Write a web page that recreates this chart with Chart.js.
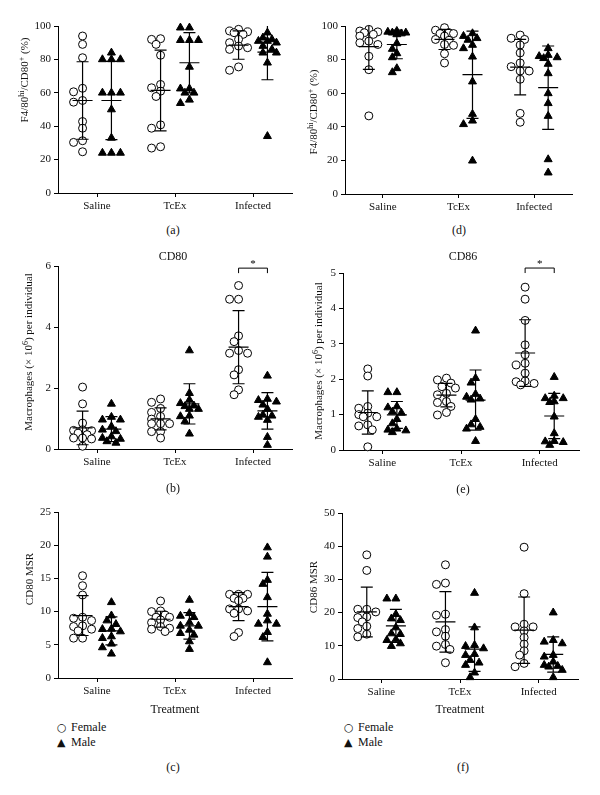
<!DOCTYPE html>
<html>
<head>
<meta charset="utf-8">
<script src="https://cdn.jsdelivr.net/npm/chart.js@4.4.1/dist/chart.umd.min.js"></script>
<style>
  body { margin: 0; background: #fff; width: 600px; height: 795px; position: relative; overflow: hidden;
         font-family: 'Liberation Serif', 'DejaVu Serif', serif; color: #111; }
  canvas { position: absolute; }
  .lbl { position: absolute; font-size: 12px; transform: translate(-50%, -50%); white-space: nowrap; }
  .leg { position: absolute; font-size: 12px; white-space: nowrap; line-height: 15px; }
  .leg span { display: inline-block; width: 14px; font-family: 'DejaVu Sans', sans-serif; font-size: 11px; }
</style>
</head>
<body>
<canvas id="pa"></canvas>
<canvas id="pd"></canvas>
<canvas id="pb"></canvas>
<canvas id="pe"></canvas>
<canvas id="pc"></canvas>
<canvas id="pf"></canvas>

<div class="lbl" style="left:173px;top:230px">(a)</div>
<div class="lbl" style="left:459px;top:230px">(d)</div>
<div class="lbl" style="left:173px;top:256px">CD80</div>
<div class="lbl" style="left:463px;top:256px">CD86</div>
<div class="lbl" style="left:173px;top:488px">(b)</div>
<div class="lbl" style="left:463px;top:489px">(e)</div>
<div class="lbl" style="left:173px;top:767px">(c)</div>
<div class="lbl" style="left:463px;top:767px">(f)</div>
<div class="leg" style="left:57px;top:720px"><span>○</span>Female<br><span>▲</span>Male</div>
<div class="leg" style="left:344px;top:720px"><span>○</span>Female<br><span>▲</span>Male</div>

<script>
const categories = ['Saline', 'TcEx', 'Infected'];

// (a) F4/80hi/CD80+ (%)
const aFemale = [[94, 89, 81, 62.7, 60.6, 55.4, 54.4, 42.8, 38.8, 31.3, 30.3, 24.7],
                 [92, 92.4, 89, 82.5, 65, 63, 61, 57.8, 40.8, 38.8, 27.7, 26.9],
                 [98, 97, 96.5, 96, 95, 92, 90, 88, 87, 86, 75.5, 73.5]];
const aMale = [[84, 80, 80, 80, 60, 60, 60, 50, 33, 24, 24, 24],
               [99, 99, 91.5, 91.5, 91.5, 75.5, 62.5, 62.5, 60, 60, 55.8, 53.8],
               [96, 93, 92, 91, 91, 90, 88, 86, 84, 84, 78, 34]];
const aFemaleMean = [55.4, 61.4, 88.6], aFemaleSD = [23.2, 24.2, 8.5];
const aMaleMean = [55.4, 78, 84.3], aMaleSD = [23.4, 18, 16.5];

// (d) F4/80hi/CD80+ (%)
const dFemale = [[98, 97, 96.5, 96, 95, 94, 91, 90, 89, 82, 74, 46.5],
                 [99, 97.5, 96, 95.5, 95.5, 94, 92, 91.5, 89, 88.5, 83.5, 78],
                 [94.6, 92.7, 92, 88.7, 84, 78, 75.8, 73.2, 73.2, 68.3, 48, 42.7]];
const dMale = [[97, 96.5, 96, 96, 95.5, 95, 89.7, 86.3, 83.7, 81.3, 74.8, 72.4],
               [95.6, 94, 92.7, 91.7, 88.7, 86.7, 81.7, 66.9, 47.6, 43.6, 41.5, 19.8],
               [86.7, 82.7, 82, 81.3, 80.8, 77.4, 71.8, 59.9, 54, 46.4, 20.6, 12.7]];
const dFemaleMean = [87.7, 92, 75.5], dFemaleSD = [13.5, 6, 16.5];
const dMaleMean = [89, 71, 63.3], dMaleSD = [8.5, 26, 24.8];

// (b) CD80 macrophages
const bFemale = [[2.03, 1.48, 0.85, 0.63, 0.61, 0.6, 0.52, 0.47, 0.36, 0.36, 0.33, 0.09],
                 [1.64, 1.53, 1.33, 1.2, 1.07, 0.98, 0.83, 0.83, 0.83, 0.57, 0.57, 0.36],
                 [5.36, 4.91, 4.91, 3.71, 3.52, 3.23, 3.14, 3.14, 2.6, 2.43, 1.94, 1.78]];
const bMale = [[1.48, 1.05, 0.96, 0.96, 0.74, 0.63, 0.58, 0.41, 0.36, 0.33, 0.25, 0.2],
               [3.23, 1.83, 1.61, 1.5, 1.42, 1.4, 1.31, 1.31, 1.09, 1.07, 0.9, 0.5],
               [2.4, 1.64, 1.6, 1.55, 1.45, 1.31, 1.12, 1.09, 1.05, 0.95, 0.39, 0.13]];
const bFemaleMean = [0.69, 0.99, 3.34], bFemaleSD = [0.55, 0.36, 1.2];
const bMaleMean = [0.65, 1.48, 1.25], bMaleSD = [0.41, 0.66, 0.6];

// (e) CD86 macrophages
const eFemale = [[2.29, 2.09, 1.23, 1.18, 1.04, 1.0, 0.94, 0.94, 0.71, 0.68, 0.57, 0.09],
                 [2.03, 1.98, 1.89, 1.79, 1.75, 1.6, 1.56, 1.37, 1.34, 1.23, 1.06, 0.99],
                 [4.6, 4.26, 3.66, 2.97, 2.69, 2.45, 2.4, 2.17, 1.95, 1.93, 1.88, 1.84]];
const eMale = [[1.63, 1.63, 1.23, 1.2, 1.08, 1.05, 0.87, 0.75, 0.6, 0.57, 0.55, 0.5],
               [3.37, 2.03, 1.9, 1.58, 1.5, 1.45, 1.42, 0.87, 0.72, 0.65, 0.6, 0.25],
               [2.06, 1.53, 1.46, 1.46, 1.37, 1.35, 0.94, 0.47, 0.25, 0.24, 0.22, 0.14]];
const eFemaleMean = [1.06, 1.55, 2.74], eFemaleSD = [0.61, 0.33, 0.94];
const eMaleMean = [0.99, 1.41, 0.96], eMaleSD = [0.38, 0.85, 0.64];

// (c) CD80 MSR
const cFemale = [[15.4, 13.9, 12.5, 9.15, 9, 8.65, 7.85, 7.75, 7.35, 7.1, 6, 6],
                 [11.6, 10.1, 10, 9.5, 9.15, 9.15, 8.75, 8.35, 7.75, 7.5, 7.35, 7],
                 [12.6, 12.6, 12.6, 12, 12, 11.65, 10.4, 10.4, 10.1, 9.75, 6.85, 6.25]];
const cMale = [[11.4, 9.4, 8.65, 8.1, 7.4, 7.35, 7, 6.25, 6, 5.15, 4.6, 3.65],
               [11.75, 9.75, 9.35, 9.15, 8.35, 7.85, 7.85, 7.25, 6.75, 6.5, 5.5, 4.35],
               [19.65, 18.25, 14.75, 14.15, 12.15, 9.65, 8.65, 8.15, 8.15, 6.9, 6.15, 2.35]];
const cFemaleMean = [9.4, 8.85, 10.75], cFemaleSD = [3.0, 1.2, 2.1];
const cMaleMean = [7.1, 7.85, 10.75], cMaleSD = [2.1, 2.0, 5.15];

// (f) CD86 MSR
const fFemale = [[37.4, 32.7, 21, 21, 20.2, 18.7, 18.5, 17.2, 15.9, 15.2, 13.5, 12.7],
                 [34.4, 28.9, 28.5, 19.5, 19.2, 14.9, 14.2, 12.9, 10.4, 9.9, 8.9, 4.9],
                 [39.7, 25.7, 16.5, 15.7, 15.7, 14.5, 12.5, 10.5, 8.5, 7.2, 4.7, 3.7]];
const fMale = [[24.2, 24.2, 19.5, 18.2, 17.7, 15.5, 13.7, 13.5, 11.9, 11.7, 10.7, 9.9],
               [25.9, 15.5, 10.2, 9.9, 9.2, 7.5, 7.2, 5.7, 4.9, 4.2, 1.9, 0.5],
               [20, 11.7, 11.2, 10.7, 7.2, 6.7, 5.2, 4.2, 3.9, 3.7, 2.7, 0.5]];
const fFemaleMean = [20.2, 17.2, 14.7], fFemaleSD = [7.5, 9.1, 10];
const fMaleMean = [16, 9, 7.4], fMaleSD = [5, 6.7, 5.3];

// significance bracket levels (Infected female vs male)
const bBracket = 5.93;
const eBracket = 5.14;

const SHIFT = 0.185;   // female left / male right of category centre
const FONT = "'Liberation Serif', 'DejaVu Serif', serif";

// spread points with near-equal values sideways, like a scatter dot plot
function swarm(groups, shift, xPerPx, yPerPx) {
  const pts = [];
  groups.forEach((vals, c) => {
    const placed = [];
    const order = vals.map((v, i) => i).sort((p, q) => vals[q] - vals[p]);
    order.forEach(i => {
      const py = vals[i] / yPerPx;
      let best = 0, bestGap = -1;
      for (let k = 0; k < 5; k++) {
        const o = (k % 2 ? -1 : 1) * Math.ceil(k / 2) * 4.5;
        const gap = placed.length ? Math.min(...placed.map(p => Math.hypot(p.px - o, p.py - py))) : 99;
        if (gap >= 6) { best = o; break; }
        if (gap > bestGap) { bestGap = gap; best = o; }
      }
      placed.push({px: best, py});
      pts.push({x: c + 0.5 + shift + best * xPerPx, y: vals[i]});
    });
  });
  return pts;
}

const errorBars = {
  id: 'errorBars',
  afterDatasetsDraw(chart, args, opts) {
    const {ctx, chartArea, scales: {x, y}} = chart;
    ctx.save();
    ctx.strokeStyle = '#000';
    ctx.lineWidth = 1.2;
    opts.groups.forEach(g => {
      g.mean.forEach((m, i) => {
        const cx = x.getPixelForValue(i + 0.5 + g.shift);
        const ym = y.getPixelForValue(m);
        const hiRaw = y.getPixelForValue(m + g.sd[i]);
        const loRaw = y.getPixelForValue(m - g.sd[i]);
        const hi = Math.max(chartArea.top, hiRaw);
        const lo = Math.min(chartArea.bottom, loRaw);
        ctx.beginPath();
        ctx.moveTo(cx, hi); ctx.lineTo(cx, lo);
        ctx.moveTo(cx - 10, ym); ctx.lineTo(cx + 10, ym);
        if (hiRaw >= chartArea.top - 0.5) { ctx.moveTo(cx - 6, hi); ctx.lineTo(cx + 6, hi); }
        if (loRaw <= chartArea.bottom) { ctx.moveTo(cx - 6, lo); ctx.lineTo(cx + 6, lo); }
        ctx.stroke();
      });
    });
    if (opts.bracket != null) {
      const x1 = x.getPixelForValue(2.5 - SHIFT), x2 = x.getPixelForValue(2.5 + SHIFT);
      const yb = y.getPixelForValue(opts.bracket);
      ctx.lineWidth = 1;
      ctx.beginPath();
      ctx.moveTo(x1, yb + 5); ctx.lineTo(x1, yb); ctx.lineTo(x2, yb); ctx.lineTo(x2, yb + 5);
      ctx.stroke();
      ctx.fillStyle = '#000';
      ctx.font = '11px ' + FONT;
      ctx.textAlign = 'center';
      ctx.textBaseline = 'middle';
      ctx.fillText('*', (x1 + x2) / 2, yb - 4);
    }
    ctx.restore();
  }
};

// rotated y-axis title with real superscripts
const yTitle = {
  id: 'yTitle',
  afterDraw(chart, args, o) {
    const {ctx} = chart;
    const main = '11px ' + FONT, sup = '8px ' + FONT;
    ctx.save();
    ctx.fillStyle = '#111';
    ctx.textBaseline = 'alphabetic';
    ctx.textAlign = 'left';
    const widths = o.parts.map(p => { ctx.font = p[1] ? sup : main; return ctx.measureText(p[0]).width; });
    const total = widths.reduce((s, w) => s + w, 0);
    ctx.translate(o.x, o.y);
    ctx.rotate(-Math.PI / 2);
    let cur = -total / 2;
    o.parts.forEach((p, i) => {
      ctx.font = p[1] ? sup : main;
      ctx.fillText(p[0], cur, p[1] ? -0.5 : 3.8);
      cur += widths[i];
    });
    ctx.restore();
  }
};

function panel(id, geo, female, male, fMean, fSD, mMean, mSD, yMax, step, titleParts, opts = {}) {
  const cv = document.getElementById(id);
  cv.width = geo.w; cv.height = geo.h;
  cv.style.left = geo.x + 'px'; cv.style.top = geo.y + 'px';
  cv.style.width = geo.w + 'px'; cv.style.height = geo.h + 'px';
  const a = geo.area;
  const xPerPx = 3 / (a.r - a.l);
  const yPerPx = yMax / (a.b - a.t);
  const tickFont = {family: FONT, size: 11};
  return new Chart(cv, {
    type: 'scatter',
    data: {
      datasets: [
        {label: 'Female', data: swarm(female, -SHIFT, xPerPx, yPerPx), pointStyle: 'circle', pointRadius: 4,
         borderColor: '#000', backgroundColor: '#fff', borderWidth: 1, clip: false},
        {label: 'Male', data: swarm(male, SHIFT, xPerPx, yPerPx), pointStyle: 'triangle', pointRadius: 4.6,
         borderColor: '#000', backgroundColor: '#000', borderWidth: 1, clip: false}
      ]
    },
    options: {
      responsive: false,
      animation: false,
      events: [],
      layout: {padding: {top: a.t, right: geo.w - a.r, left: 0, bottom: 0}},
      plugins: {
        legend: {display: false},
        tooltip: {enabled: false},
        errorBars: {
          groups: [{shift: -SHIFT, mean: fMean, sd: fSD}, {shift: SHIFT, mean: mMean, sd: mSD}],
          bracket: opts.bracket
        },
        yTitle: {parts: titleParts, x: geo.titleX, y: geo.titleY - geo.y}
      },
      scales: {
        x: {
          type: 'linear', min: 0, max: 3,
          afterBuildTicks: s => { s.ticks = categories.map((c, i) => ({value: i + 0.5})); },
          afterFit: s => { s.height = geo.h - a.b; },
          ticks: {callback: (v, i) => categories[i], font: tickFont, color: '#111', padding: 3, maxRotation: 0},
          grid: {drawOnChartArea: false, drawTicks: true, tickLength: 4, color: '#000'},
          border: {color: '#000', width: 1},
          title: {display: !!opts.xTitle, text: opts.xTitle, font: {family: FONT, size: 12}, color: '#111',
                  padding: {top: 0, bottom: 2.8}}
        },
        y: {
          min: 0, max: yMax,
          afterFit: s => { s.width = a.l; },
          ticks: {stepSize: step, autoSkip: false, font: tickFont, color: '#111', padding: 3},
          grid: {drawOnChartArea: false, drawTicks: true, tickLength: 4, color: '#000'},
          border: {color: '#000', width: 1}
        }
      }
    },
    plugins: [errorBars, yTitle]
  });
}

const yPct = [['F4/80'], ['hi', 1], ['/CD80'], ['+', 1], [' (%)']];
const yMac = [['Macrophages (× 10'], ['6', 1], [') per individual']];

panel('pa', {x: 0, y: 0, w: 300, h: 220, titleX: 24, titleY: 80, area: {l: 58, r: 292, t: 26, b: 193}},
      aFemale, aMale, aFemaleMean, aFemaleSD, aMaleMean, aMaleSD, 100, 20, yPct);
panel('pd', {x: 300, y: 0, w: 300, h: 220, titleX: 13, titleY: 112, area: {l: 45, r: 272, t: 26, b: 194}},
      dFemale, dMale, dFemaleMean, dFemaleSD, dMaleMean, dMaleSD, 100, 20, yPct);
panel('pb', {x: 0, y: 240, w: 300, h: 235, titleX: 28, titleY: 352, area: {l: 58, r: 292, t: 26, b: 209}},
      bFemale, bMale, bFemaleMean, bFemaleSD, bMaleMean, bMaleSD, 6, 2, yMac, {bracket: bBracket});
panel('pe', {x: 300, y: 240, w: 300, h: 235, titleX: 18, titleY: 361, area: {l: 43, r: 279, t: 33, b: 210}},
      eFemale, eMale, eFemaleMean, eFemaleSD, eMaleMean, eMaleSD, 5, 1, yMac, {bracket: eBracket});
panel('pc', {x: 0, y: 490, w: 300, h: 230, titleX: 29, titleY: 579, area: {l: 58, r: 292, t: 22, b: 188}},
      cFemale, cMale, cFemaleMean, cFemaleSD, cMaleMean, cMaleSD, 25, 5, [['CD80 MSR']], {xTitle: 'Treatment'});
panel('pf', {x: 300, y: 490, w: 300, h: 230, titleX: 13, titleY: 587, area: {l: 42, r: 278, t: 23, b: 189}},
      fFemale, fMale, fFemaleMean, fFemaleSD, fMaleMean, fMaleSD, 50, 10, [['CD86 MSR']], {xTitle: 'Treatment'});
</script>
</body>
</html>
